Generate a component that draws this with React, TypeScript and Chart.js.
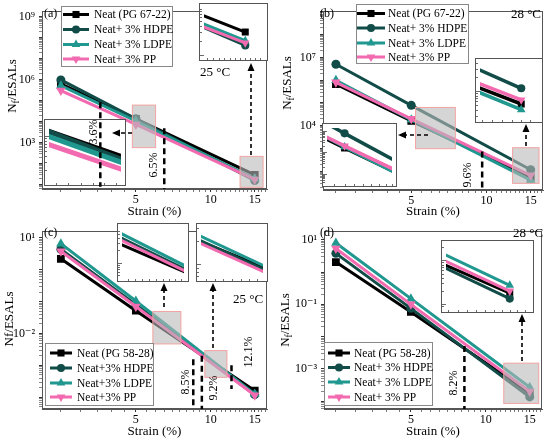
import React, { useEffect, useRef } from 'react';
import { Chart, registerables } from 'chart.js';

Chart.register(...registerables);

// ---------- data ----------
const strain = [2.5, 5, 15];

// (a) PG 67-22, 25 °C
const aNeat = [6.5e5, 1.4e4, 30];
const aHDPE = [1.0e6, 1.4e4, 16];
const aLDPE = [5.3e5, 1.1e4, 20];
const aPP = [3.1e5, 7.5e3, 18];
// (b) PG 67-22, 28 °C
const bNeat = [6.6e5, 1.6e4, 53];
const bHDPE = [5.0e6, 7.8e4, 115];
const bLDPE = [9.8e5, 1.8e4, 40];
const bPP = [8.0e5, 2.0e4, 65];
// (c) PG 58-28, 25 °C
const cNeat = [2.2, 0.052, 1.6e-4];
const cHDPE = [4.4, 0.08, 1.2e-4];
const cLDPE = [6.6, 0.105, 1.25e-4];
const cPP = [3.8, 0.07, 1.15e-4];
// (d) PG 58-28, 28 °C
const dNeat = [2.05, 0.058, 1.8e-4];
const dHDPE = [3.8, 0.075, 1.35e-4];
const dLDPE = [8.0, 0.15, 2.7e-4];
const dPP = [5.4, 0.1, 2.0e-4];

const namesA = ['Neat (PG 67-22)', 'Neat+ 3% HDPE', 'Neat+ 3% LDPE', 'Neat+ 3% PP'];
const namesC = ['Neat (PG 58-28)', 'Neat+3% HDPE', 'Neat+3% LDPE', 'Neat+3% PP'];
const namesD = ['Neat (PG 58-28)', 'Neat+ 3% HDPE', 'Neat+ 3% LDPE', 'Neat+ 3% PP'];

const xTickLabels = [5, 10, 15];
const yExpA = [3, 6, 9];
const yExpB = [4, 7];
const yExpC = [1, -2];
const yExpD = [1, -1, -3];

// ---------- styles ----------
const FONT = "'Liberation Serif', 'DejaVu Serif', serif";
const COLORS = ['#000000', '#114c48', '#20988f', '#f26aaf'];
const STYLES = ['rect', 'circle', 'triangle', 'triangle'];
const ROTS = [0, 0, 0, 180];
const RADII = [5.5, 4.5, 5.5, 5.5];
const AXIS = '#555555';

const SUP: Record<string, string> = { '0': '⁰', '1': '¹', '2': '²', '3': '³', '4': '⁴', '5': '⁵', '6': '⁶', '7': '⁷', '8': '⁸', '9': '⁹', '-': '⁻' };
const sup = (n: number) => String(n).split('').map((ch) => SUP[ch]).join('');

function logTicks(min: number, max: number) {
  const out: { value: number; major: boolean }[] = [];
  for (let e = Math.floor(Math.log10(min)) - 1; e <= Math.ceil(Math.log10(max)); e++) {
    for (let m = 1; m <= 9; m++) {
      const v = m * Math.pow(10, e);
      if (v >= min * 0.9999 && v <= max * 1.0001) out.push({ value: v, major: m === 1 });
    }
  }
  return out;
}
function halfTicks(min: number, max: number) {
  const out: { value: number; major: boolean }[] = [];
  for (let v = Math.ceil(min * 2) / 2; v <= max; v += 0.5) out.push({ value: v, major: xTickLabels.includes(v) });
  return out;
}
function niceTicks(min: number, max: number) {
  const steps = [0.05, 0.1, 0.2, 0.25, 0.5, 1];
  let step = 1;
  for (const s of steps) { if ((max - min) / s <= 12) { step = s; break; } }
  const out: number[] = [];
  for (let v = Math.ceil(min / step) * step; v <= max; v += step) out.push(v);
  return out;
}

type Inset = { x: number; y: number; w: number; h: number; xMin: number; xMax: number; yMin: number; yMax: number; lw: number };
type Panel = {
  left: number; top: number; w: number; h: number;
  series: number[][]; names: string[];
  xMin: number; xMax: number; yMin: number; yMax: number; yExp: number[];
  padTop: number; padRight: number; yWidth: number; xHeight: number; titlePadB: number;
  yTitle: { sub: boolean; cx: number; cy: number };
  insets: Inset[];
  rects: { x0: number; x1: number; y0: number; y1: number }[];
  vlines: { x: number; y1: number; y0?: number }[];
  arrows: { x1: number; y1: number; x2: number; y2: number }[];
  texts: { t: string; x: number; y: number; rot?: boolean; align?: CanvasTextAlign; size?: number }[];
  legend: { x: number; y: number; w: number; h: number; rows: number[]; lx1: number; lx2: number; mx: number; tx: number };
};

const panels: Panel[] = [
  {
    left: 0, top: 0, w: 275, h: 220,
    series: [aNeat, aHDPE, aLDPE, aPP], names: namesA,
    xMin: 2.1, xMax: 16.8, yMin: Math.pow(10, 0.8), yMax: Math.pow(10, 9.275), yExp: yExpA,
    padTop: 4, padRight: 8, yWidth: 42, xHeight: 31, titlePadB: 1,
    yTitle: { sub: true, cx: 13, cy: 86 },
    insets: [
      { x: 44, y: 119, w: 82, h: 67, xMin: 5.1, xMax: 6.3, yMin: Math.pow(10, 3.08), yMax: Math.pow(10, 4.25), lw: 5 },
      { x: 199, y: 3, w: 69, h: 58, xMin: 13.1, xMax: 15.9, yMin: 9.7, yMax: 93, lw: 3 },
    ],
    rects: [
      { x0: 4.84, x1: 6.0, y0: 590, y1: 6.3e4 },
      { x0: 13.1, x1: 16.2, y0: 7.6, y1: 226 },
    ],
    vlines: [
      { x: 3.6, y1: 8.5e4, y0: 8.0 },
      { x: 6.5, y1: 4.9e3 },
    ],
    arrows: [
      { x1: 132, y1: 133, x2: 112, y2: 133 },
      { x1: 251, y1: 155, x2: 251, y2: 63 },
    ],
    texts: [
      { t: '(a)', x: 44, y: 14, align: 'left', size: 12 },
      { t: '3.6%', x: 94, y: 132, rot: true },
      { t: '6.5%', x: 154, y: 165, rot: true },
      { t: '25 °C', x: 200, y: 73, align: 'left', size: 13 },
    ],
    legend: { x: 61, y: 6, w: 111, h: 60, rows: [14.5, 29.5, 44.5, 59], lx1: 63, lx2: 89, mx: 76, tx: 94 },
  },
  {
    left: 275, top: 0, w: 275, h: 220,
    series: [bNeat, bHDPE, bLDPE, bPP], names: namesA,
    xMin: 2.22, xMax: 16.8, yMin: Math.pow(10, 1.17), yMax: Math.pow(10, 9.03), yExp: yExpB,
    padTop: 4, padRight: 7, yWidth: 48, xHeight: 30, titlePadB: 1,
    yTitle: { sub: true, cx: 13, cy: 83 },
    insets: [
      { x: 47, y: 123, w: 75, h: 64, xMin: 4.2, xMax: 8.0, yMin: 400, yMax: 1.4e5, lw: 3.5 },
      { x: 200, y: 58, w: 68, h: 65, xMin: 12.9, xMax: 15.95, yMin: 26.5, yMax: 402, lw: 3.5 },
    ],
    rects: [
      { x0: 5.2, x1: 7.5, y0: 970, y1: 6.3e4 },
      { x0: 12.7, x1: 16.2, y0: 29, y1: 1070 },
    ],
    vlines: [{ x: 9.6, y1: 720 }],
    arrows: [
      { x1: 153, y1: 135, x2: 123, y2: 135 },
      { x1: 251, y1: 146, x2: 251, y2: 124 },
    ],
    texts: [
      { t: '(b)', x: 45, y: 14, align: 'left', size: 12 },
      { t: '28 °C', x: 266, y: 15, align: 'right', size: 13 },
      { t: '9.6%', x: 193, y: 175, rot: true },
    ],
    legend: { x: 81, y: 4, w: 112, h: 59, rows: [13.5, 28, 43, 57], lx1: 82, lx2: 110, mx: 96, tx: 113 },
  },
  {
    left: 0, top: 220, w: 275, h: 221,
    series: [cNeat, cHDPE, cLDPE, cPP], names: namesC,
    xMin: 2.1, xMax: 16.8, yMin: Math.pow(10, -4.37), yMax: Math.pow(10, 1.21), yExp: yExpC,
    padTop: 3, padRight: 8, yWidth: 42, xHeight: 32, titlePadB: 2,
    yTitle: { sub: false, cx: 10, cy: 99 },
    insets: [
      { x: 117, y: 3, w: 72, h: 59, xMin: 5.65, xMax: 7.5, yMin: 0.00457, yMax: 0.0692, lw: 3 },
      { x: 196, y: 3, w: 72, h: 59, xMin: 9.3, xMax: 10.75, yMin: 6.76e-4, yMax: 3.02e-3, lw: 3 },
    ],
    rects: [
      { x0: 5.85, x1: 7.58, y0: 0.0047, y1: 0.049 },
      { x0: 9.46, x1: 11.6, y0: 4.2e-4, y1: 0.0029 },
    ],
    vlines: [
      { x: 8.5, y1: 1.55e-3 },
      { x: 9.2, y1: 2.0e-3 },
      { x: 12.1, y1: 1.0e-3, y0: 1.8e-4 },
    ],
    arrows: [
      { x1: 164, y1: 87, x2: 164, y2: 63 },
      { x1: 213, y1: 128, x2: 213, y2: 63 },
    ],
    texts: [
      { t: '(c)', x: 44, y: 13, align: 'left', size: 12 },
      { t: '25 °C', x: 233, y: 80, align: 'left', size: 13 },
      { t: '8.5%', x: 186, y: 162, rot: true },
      { t: '9.2%', x: 214, y: 168, rot: true },
      { t: '12.1%', x: 249, y: 132, rot: true },
    ],
    legend: { x: 45, y: 123, w: 108, h: 62, rows: [133, 148, 163, 177], lx1: 50, lx2: 72, mx: 61, tx: 77 },
  },
  {
    left: 275, top: 220, w: 275, h: 221,
    series: [dNeat, dHDPE, dLDPE, dPP], names: namesD,
    xMin: 2.24, xMax: 16.8, yMin: Math.pow(10, -4.244), yMax: Math.pow(10, 1.267), yExp: yExpD,
    padTop: 3, padRight: 8, yWidth: 49, xHeight: 32, titlePadB: 2,
    yTitle: { sub: true, cx: 11, cy: 100 },
    insets: [
      { x: 166, y: 20, w: 93, h: 73, xMin: 11.4, xMax: 16.3, yMin: 8.24e-5, yMax: 2.22e-3, lw: 3 },
    ],
    rects: [{ x0: 11.8, x1: 16.3, y0: 8.5e-5, y1: 1.5e-3 }],
    vlines: [{ x: 8.2, y1: 5.1e-3 }],
    arrows: [{ x1: 247, y1: 141, x2: 247, y2: 94 }],
    texts: [
      { t: '(d)', x: 45, y: 13, align: 'left', size: 12 },
      { t: '28 °C', x: 238, y: 14, align: 'left', size: 13 },
      { t: '8.2%', x: 179, y: 163, rot: true },
    ],
    legend: { x: 49, y: 122, w: 108, h: 63, rows: [133, 147.5, 162, 177], lx1: 53, lx2: 75, mx: 64, tx: 79 },
  },
];

// ---------- drawing helpers ----------
function drawMarker(ctx: CanvasRenderingContext2D, style: string, rot: number, x: number, y: number, r: number, color: string) {
  ctx.save();
  ctx.fillStyle = color;
  ctx.beginPath();
  if (style === 'rect') {
    const s = r * Math.SQRT1_2;
    ctx.rect(x - s, y - s, 2 * s, 2 * s);
  } else if (style === 'circle') {
    ctx.arc(x, y, r, 0, Math.PI * 2);
  } else {
    const d = rot === 180 ? 1 : -1;
    ctx.moveTo(x, y + d * r);
    ctx.lineTo(x - r * 0.866, y - d * r * 0.5);
    ctx.lineTo(x + r * 0.866, y - d * r * 0.5);
  }
  ctx.closePath();
  ctx.fill();
  ctx.restore();
}

function drawOverlay(c: any, ctx: CanvasRenderingContext2D, p: Panel) {
  const xs = c.scales.x;
  const ys = c.scales.y;
  // zoom rectangles
  p.rects.forEach((r) => {
    const x0 = xs.getPixelForValue(r.x0);
    const x1 = xs.getPixelForValue(r.x1);
    const yT = ys.getPixelForValue(r.y1);
    const yB = ys.getPixelForValue(r.y0);
    ctx.fillStyle = 'rgba(185,185,185,0.6)';
    ctx.fillRect(x0, yT, x1 - x0, yB - yT);
    ctx.strokeStyle = '#f3a3a3';
    ctx.lineWidth = 1;
    ctx.strokeRect(x0, yT, x1 - x0, yB - yT);
  });
  // vertical strain markers
  p.vlines.forEach((v) => {
    const x = xs.getPixelForValue(v.x);
    const yT = ys.getPixelForValue(v.y1);
    const yB = v.y0 !== undefined ? ys.getPixelForValue(v.y0) : c.chartArea.bottom;
    ctx.save();
    ctx.setLineDash([6, 4]);
    ctx.lineWidth = 2.5;
    ctx.strokeStyle = '#000';
    ctx.beginPath();
    ctx.moveTo(x, yT);
    ctx.lineTo(x, yB);
    ctx.stroke();
    ctx.restore();
  });
  // arrows
  p.arrows.forEach((a) => {
    const ang = Math.atan2(a.y2 - a.y1, a.x2 - a.x1);
    const L = 8;
    const bx = a.x2 - Math.cos(ang) * L;
    const by = a.y2 - Math.sin(ang) * L;
    ctx.save();
    ctx.setLineDash([4, 3]);
    ctx.lineWidth = 1.6;
    ctx.strokeStyle = '#000';
    ctx.beginPath();
    ctx.moveTo(a.x1, a.y1);
    ctx.lineTo(bx, by);
    ctx.stroke();
    ctx.setLineDash([]);
    ctx.fillStyle = '#000';
    ctx.beginPath();
    ctx.moveTo(a.x2, a.y2);
    ctx.lineTo(bx + Math.cos(ang + Math.PI / 2) * 3.5, by + Math.sin(ang + Math.PI / 2) * 3.5);
    ctx.lineTo(bx - Math.cos(ang + Math.PI / 2) * 3.5, by - Math.sin(ang + Math.PI / 2) * 3.5);
    ctx.closePath();
    ctx.fill();
    ctx.restore();
  });
  // texts
  p.texts.forEach((t) => {
    ctx.save();
    ctx.fillStyle = '#000';
    ctx.font = `${t.size || 12}px ${FONT}`;
    ctx.textBaseline = 'middle';
    ctx.textAlign = t.rot ? 'center' : t.align || 'left';
    ctx.translate(t.x, t.y);
    if (t.rot) ctx.rotate(-Math.PI / 2);
    ctx.fillText(t.t, 0, 0);
    ctx.restore();
  });
  // legend
  const lg = p.legend;
  ctx.save();
  ctx.fillStyle = '#fff';
  ctx.fillRect(lg.x, lg.y, lg.w, lg.h);
  ctx.strokeStyle = '#888';
  ctx.lineWidth = 1;
  ctx.strokeRect(lg.x + 0.5, lg.y + 0.5, lg.w, lg.h);
  p.names.forEach((n, i) => {
    const y = lg.rows[i];
    ctx.strokeStyle = COLORS[i];
    ctx.lineWidth = 3;
    ctx.beginPath();
    ctx.moveTo(lg.lx1, y);
    ctx.lineTo(lg.lx2, y);
    ctx.stroke();
    drawMarker(ctx, STYLES[i], ROTS[i], lg.mx, y, RADII[i] - 0.5, COLORS[i]);
    ctx.fillStyle = '#000';
    ctx.font = `11.5px ${FONT}`;
    ctx.textBaseline = 'middle';
    ctx.textAlign = 'left';
    ctx.fillText(n, lg.tx, y + 0.5);
  });
  ctx.restore();
}

function drawYTitle(ctx: CanvasRenderingContext2D, p: Panel) {
  const t = p.yTitle;
  ctx.save();
  ctx.fillStyle = '#000';
  ctx.textBaseline = 'middle';
  ctx.textAlign = 'left';
  ctx.translate(t.cx, t.cy);
  ctx.rotate(-Math.PI / 2);
  const big = `13px ${FONT}`;
  const small = `9.5px ${FONT}`;
  ctx.font = big;
  const wN = ctx.measureText('N').width;
  const wR = ctx.measureText('/ESALs').width;
  ctx.font = t.sub ? small : big;
  const wF = ctx.measureText('f').width;
  let x = -(wN + wF + wR) / 2;
  ctx.font = big;
  ctx.fillText('N', x, 0);
  x += wN;
  ctx.font = t.sub ? small : big;
  ctx.fillText('f', x, t.sub ? 3 : 0);
  x += wF;
  ctx.font = big;
  ctx.fillText('/ESALs', x, 0);
  ctx.restore();
}

function makeDatasets(p: Panel, lw: number, scale: number) {
  return p.series.map((s, i) => ({
    label: p.names[i],
    data: strain.map((x, j) => ({ x, y: s[j] })),
    borderColor: COLORS[i],
    backgroundColor: COLORS[i],
    borderWidth: lw,
    pointStyle: STYLES[i] as any,
    pointRotation: ROTS[i],
    pointRadius: RADII[i] * scale,
    pointBorderWidth: 0,
    order: 4 - i,
    tension: 0,
  }));
}

function PanelView({ p }: { p: Panel }) {
  const mainRef = useRef<HTMLCanvasElement>(null);
  const overRef = useRef<HTMLCanvasElement>(null);
  const insetRefs = useRef<(HTMLCanvasElement | null)[]>([]);

  useEffect(() => {
    const charts: Chart[] = [];
    const dpr = window.devicePixelRatio || 1;
    const over = overRef.current!;
    over.width = p.w * dpr;
    over.height = p.h * dpr;
    const octx = over.getContext('2d')!;

    const deco = {
      id: 'deco',
      afterDraw(c: any) {
        const ctx = c.ctx as CanvasRenderingContext2D;
        const a = c.chartArea;
        ctx.save();
        ctx.strokeStyle = AXIS;
        ctx.lineWidth = 1;
        ctx.strokeRect(Math.round(a.left) + 0.5, Math.round(a.top) + 0.5, Math.round(a.right - a.left) - 1, Math.round(a.bottom - a.top) - 1);
        ctx.restore();
        drawYTitle(ctx, p);
        octx.setTransform(dpr, 0, 0, dpr, 0, 0);
        octx.clearRect(0, 0, p.w, p.h);
        drawOverlay(c, octx, p);
      },
    };

    const main = new Chart(mainRef.current!, {
      type: 'line',
      data: { datasets: makeDatasets(p, 3, 1) as any },
      options: {
        responsive: false,
        animation: false,
        events: [],
        layout: { padding: { left: 0, top: p.padTop, right: p.padRight, bottom: 0 } },
        plugins: { legend: { display: false }, tooltip: { enabled: false } },
        scales: {
          x: {
            type: 'logarithmic',
            min: p.xMin,
            max: p.xMax,
            bounds: 'data',
            afterBuildTicks: (s: any) => { s.ticks = halfTicks(p.xMin, p.xMax); },
            afterFit: (s: any) => { s.height = p.xHeight; },
            ticks: {
              autoSkip: false,
              maxRotation: 0,
              padding: 1,
              color: '#000',
              font: { family: FONT, size: 12 },
              callback: (v: any) => (xTickLabels.includes(Number(v)) ? String(v) : ''),
            },
            grid: {
              drawOnChartArea: false,
              tickLength: 3,
              tickColor: (ctx: any) => (ctx.tick && ctx.tick.major ? '#333' : '#777'),
            },
            border: { color: AXIS },
            title: { display: true, text: 'Strain (%)', color: '#000', font: { family: FONT, size: 13 }, padding: { top: 0, bottom: p.titlePadB } },
          },
          y: {
            type: 'logarithmic',
            min: p.yMin,
            max: p.yMax,
            bounds: 'data',
            afterBuildTicks: (s: any) => { s.ticks = logTicks(p.yMin, p.yMax); },
            afterFit: (s: any) => { s.width = p.yWidth; },
            ticks: {
              autoSkip: false,
              padding: 4,
              color: '#000',
              font: { family: FONT, size: 12 },
              callback: (v: any) => {
                const e = Math.log10(Number(v));
                const r = Math.round(e);
                return Math.abs(e - r) < 1e-6 && p.yExp.includes(r) ? '10' + sup(r) : '';
              },
            },
            grid: {
              drawOnChartArea: false,
              tickLength: 3,
              tickColor: (ctx: any) => (ctx.tick && ctx.tick.major ? '#333' : '#888'),
            },
            border: { color: AXIS },
            title: { display: false },
          },
        },
      } as any,
      plugins: [deco],
    });
    charts.push(main);

    p.insets.forEach((ins, k) => {
      const cv = insetRefs.current[k];
      if (!cv) return;
      const insetDeco = {
        id: 'insetDeco',
        beforeDraw(c: any) {
          const ctx = c.ctx as CanvasRenderingContext2D;
          ctx.save();
          ctx.fillStyle = '#fff';
          ctx.fillRect(0, 0, c.width, c.height);
          ctx.restore();
        },
        afterDraw(c: any) {
          const ctx = c.ctx as CanvasRenderingContext2D;
          const xs = c.scales.x;
          const ys = c.scales.y;
          const W = c.width;
          const H = c.height;
          ctx.save();
          ctx.strokeStyle = '#444';
          ctx.lineWidth = 0.8;
          logTicks(ins.yMin, ins.yMax).forEach((t) => {
            const y = Math.round(ys.getPixelForValue(t.value)) + 0.5;
            ctx.beginPath();
            ctx.moveTo(0, y);
            ctx.lineTo(t.major ? 5 : 3, y);
            ctx.stroke();
          });
          niceTicks(ins.xMin, ins.xMax).forEach((v) => {
            const x = Math.round(xs.getPixelForValue(v)) + 0.5;
            ctx.beginPath();
            ctx.moveTo(x, H);
            ctx.lineTo(x, H - 3);
            ctx.stroke();
          });
          ctx.strokeStyle = '#555';
          ctx.lineWidth = 1;
          ctx.strokeRect(0.5, 0.5, W - 1, H - 1);
          ctx.restore();
        },
      };
      charts.push(
        new Chart(cv, {
          type: 'line',
          data: { datasets: makeDatasets(p, ins.lw, 0.9) as any },
          options: {
            responsive: false,
            animation: false,
            events: [],
            layout: { padding: 0 },
            plugins: { legend: { display: false }, tooltip: { enabled: false } },
            scales: {
              x: { type: 'logarithmic', display: false, min: ins.xMin, max: ins.xMax, bounds: 'data' },
              y: { type: 'logarithmic', display: false, min: ins.yMin, max: ins.yMax, bounds: 'data' },
            },
          } as any,
          plugins: [insetDeco],
        })
      );
    });

    return () => {
      charts.forEach((c) => c.destroy());
    };
  }, [p]);

  return (
    <div style={{ position: 'absolute', left: p.left, top: p.top, width: p.w, height: p.h, overflow: 'hidden' }}>
      <canvas ref={mainRef} width={p.w} height={p.h} style={{ position: 'absolute', left: 0, top: 0, width: p.w, height: p.h }} />
      {p.insets.map((ins, k) => (
        <canvas
          key={k}
          ref={(el) => { insetRefs.current[k] = el; }}
          width={ins.w}
          height={ins.h}
          style={{ position: 'absolute', left: ins.x, top: ins.y, width: ins.w, height: ins.h }}
        />
      ))}
      <canvas ref={overRef} style={{ position: 'absolute', left: 0, top: 0, width: p.w, height: p.h, pointerEvents: 'none' }} />
    </div>
  );
}

export default function App() {
  useEffect(() => {
    document.body.style.margin = '0';
  }, []);
  return (
    <div style={{ position: 'relative', width: 550, height: 441, background: '#fff', overflow: 'hidden' }}>
      {panels.map((p, i) => (
        <PanelView key={i} p={p} />
      ))}
    </div>
  );
}
